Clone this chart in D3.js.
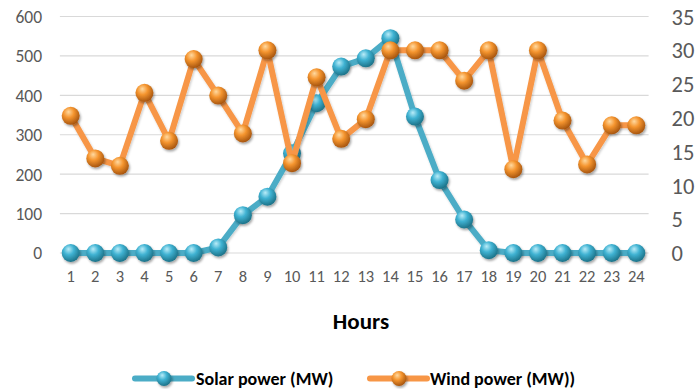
<!DOCTYPE html>
<html>
<head>
<meta charset="utf-8">
<script src="https://cdn.jsdelivr.net/npm/d3@7"></script>
<style>
  html, body { margin: 0; padding: 0; background: #fff; }
  svg { display: block; }
  text { font-family: Carlito, Lato, "Open Sans", sans-serif; }
</style>
</head>
<body>
<svg id="chart" width="697" height="389"></svg>
<script>
// Hourly generation profile
const hours = d3.range(1, 25);
const solarPower = [0, 0, 0, 0, 0, 0, 14, 96, 143, 253, 380, 473, 494, 545, 346, 185, 85, 7, 0, 0, 0, 0, 0, 0];
const windPower = [20.3, 14.0, 12.9, 23.7, 16.6, 28.7, 23.3, 17.7, 30.0, 13.3, 26.0, 16.9, 19.8, 30.0, 30.0, 30.0, 25.5, 30.0, 12.4, 30.0, 19.6, 13.1, 18.9, 18.9];
const leftTicks = [0, 100, 200, 300, 400, 500, 600];
const rightTicks = [0, 5, 10, 15, 20, 25, 30, 35];
const seriesNames = ["Solar power (MW)", "Wind power (MW))"];
const xTitle = "Hours";

const svg = d3.select("#chart");
const plot = { left: 58.4, right: 648.6, top: 16.5, bottom: 253 };

const colors = { solar: "#4BACC6", wind: "#F79646" };

const x = d3.scaleBand().domain(hours).range([plot.left, plot.right]);
const cx = h => x(h) + x.bandwidth() / 2;
const yL = d3.scaleLinear().domain([0, 600]).range([plot.bottom, plot.top]);
const yR = d3.scaleLinear().domain([0, 35]).range([plot.bottom, plot.top]);

// Gradients and shadow for the spherical markers
const defs = svg.append("defs");
function sphere(id, light, mid, dark) {
  const g = defs.append("radialGradient").attr("id", id)
    .attr("cx", "40%").attr("cy", "35%").attr("r", "65%").attr("fx", "38%").attr("fy", "28%");
  g.append("stop").attr("offset", "0%").attr("stop-color", light);
  g.append("stop").attr("offset", "45%").attr("stop-color", mid);
  g.append("stop").attr("offset", "100%").attr("stop-color", dark);
}
sphere("ballSolar", "#b9ecf8", "#3fb2d2", "#1d7389");
sphere("ballWind", "#ffd9a0", "#f5952f", "#a8560f");

const shadow = defs.append("filter").attr("id", "shadow")
  .attr("x", "-50%").attr("y", "-50%").attr("width", "200%").attr("height", "200%");
shadow.append("feDropShadow").attr("dx", 1.2).attr("dy", 1.8).attr("stdDeviation", 1.3)
  .attr("flood-color", "#000").attr("flood-opacity", 0.35);
const lineShadow = defs.append("filter").attr("id", "lineShadow")
  .attr("x", "-10%").attr("y", "-10%").attr("width", "120%").attr("height", "120%");
lineShadow.append("feDropShadow").attr("dx", 1).attr("dy", 1.5).attr("stdDeviation", 1.2)
  .attr("flood-color", "#000").attr("flood-opacity", 0.2);

// Horizontal gridlines
svg.append("g").selectAll("line").data(leftTicks).join("line")
  .attr("x1", plot.left + 1.5).attr("x2", plot.right)
  .attr("y1", d => yL(d)).attr("y2", d => yL(d))
  .attr("stroke", "#d9d9d9").attr("stroke-width", 1.2);

// Left axis labels
const leftAxis = d3.axisLeft(yL).tickValues(leftTicks).tickSize(0).tickPadding(0);
const gL = svg.append("g").attr("transform", `translate(${42},0)`).call(leftAxis);
gL.select(".domain").remove();
gL.selectAll("text").attr("fill", "#595959").attr("font-size", 17.5).attr("dy", "0.34em");

// Right axis labels
const rightAxis = d3.axisRight(yR).tickValues(rightTicks).tickSize(0).tickPadding(0);
const gR = svg.append("g").attr("transform", `translate(${671.5},0)`).call(rightAxis);
gR.select(".domain").remove();
gR.selectAll("text").attr("fill", "#595959").attr("font-size", 22.5).attr("dy", "0.34em");

// Category labels
const bottomAxis = d3.axisBottom(x).tickSize(0).tickPadding(0);
const gB = svg.append("g").attr("transform", `translate(0,${270})`).call(bottomAxis);
gB.select(".domain").remove();
gB.selectAll("text").attr("fill", "#595959").attr("font-size", 16.5).attr("dy", "0.71em");

// Axis title
svg.append("text").attr("x", 361).attr("y", 328.5).attr("text-anchor", "middle")
  .attr("font-weight", "bold").attr("font-size", 23).attr("fill", "#000").text(xTitle);

// Series
function drawSeries(values, yScale, color, ball) {
  const pts = hours.map((h, i) => [cx(h), yScale(values[i])]);
  const g = svg.append("g");
  g.append("path").attr("d", d3.line()(pts))
    .attr("fill", "none").attr("stroke", color).attr("stroke-width", 6)
    .attr("stroke-linejoin", "round").attr("filter", "url(#lineShadow)");
  g.selectAll("circle").data(pts).join("circle")
    .attr("cx", d => d[0]).attr("cy", d => d[1]).attr("r", 9)
    .attr("fill", `url(#${ball})`).attr("filter", "url(#shadow)");
}
drawSeries(solarPower, yL, colors.solar, "ballSolar");
drawSeries(windPower, yR, colors.wind, "ballWind");

// Legend
const legendItems = [
  { name: seriesNames[0], color: colors.solar, ball: "ballSolar", x0: 135, x1: 192, mx: 164, tx: 196 },
  { name: seriesNames[1], color: colors.wind, ball: "ballWind", x0: 370, x1: 427, mx: 399, tx: 430 }
];
const ly = 378.5;
const lg = svg.append("g").selectAll("g").data(legendItems).join("g");
lg.append("line").attr("x1", d => d.x0).attr("x2", d => d.x1).attr("y1", ly).attr("y2", ly)
  .attr("stroke", d => d.color).attr("stroke-width", 6).attr("stroke-linecap", "round");
lg.append("circle").attr("cx", d => d.mx).attr("cy", ly).attr("r", 7.5)
  .attr("fill", d => `url(#${d.ball})`).attr("filter", "url(#shadow)");
lg.append("text").attr("x", d => d.tx).attr("y", 384.5)
  .attr("font-weight", "bold").attr("font-size", 18).attr("fill", "#000").text(d => d.name);
</script>
</body>
</html>
